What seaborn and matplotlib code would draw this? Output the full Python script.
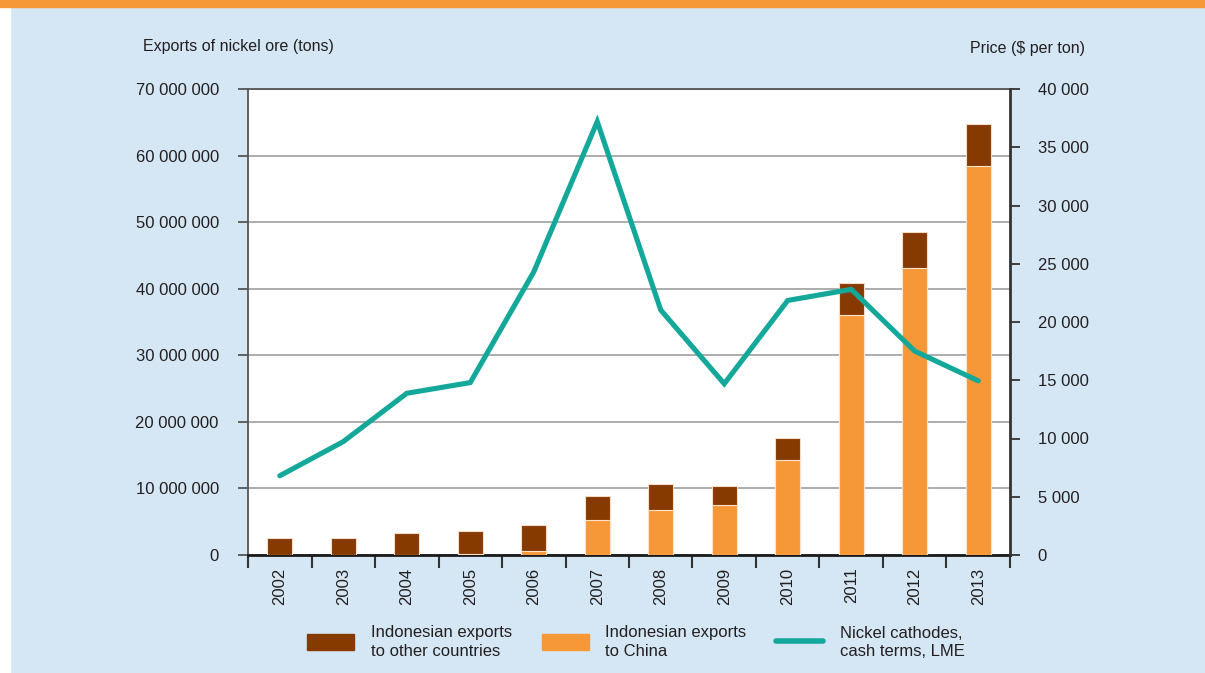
import numpy as np
import pandas as pd
import matplotlib
matplotlib.use("Agg")
import matplotlib.pyplot as plt
import seaborn as sns
from matplotlib.patches import Rectangle
from matplotlib.lines import Line2D
from matplotlib.ticker import FuncFormatter

years = ["2002", "2003", "2004", "2005", "2006", "2007", "2008", "2009", "2010", "2011", "2012", "2013"]
exports_total = [2.55e6, 2.5e6, 3.3e6, 3.6e6, 4.45e6, 8.9e6, 10.6e6, 10.3e6, 17.6e6, 40.8e6, 48.5e6, 64.7e6]
exports_china = [0.0, 0.0, 0.0, 0.1e6, 0.6e6, 5.3e6, 6.7e6, 7.5e6, 14.3e6, 36.1e6, 43.1e6, 58.5e6]
nickel_price = [6800, 9730, 13880, 14800, 24300, 37200, 21030, 14700, 21850, 22800, 17500, 14950]

legend_labels = ["Indonesian exports\nto other countries", "Indonesian exports\nto China", "Nickel cathodes,\ncash terms, LME"]

BROWN = "#873A00"
ORANGE = "#F79838"
TEAL = "#14A89A"
BLUE_BG = "#D5E7F5"

sns.set_theme(style="white")
plt.rcParams["font.family"] = ["Liberation Sans Narrow", "Liberation Sans", "DejaVu Sans"]

df = pd.DataFrame({"year": years, "total": exports_total, "china": exports_china, "price": nickel_price})

fig = plt.figure(figsize=(12.05, 6.73), dpi=100, facecolor=BLUE_BG)
# white left margin strip and orange top strip
fig.patches.append(Rectangle((0, 0), 10 / 1205, 1, transform=fig.transFigure, color="white", zorder=-5))
fig.patches.append(Rectangle((0, 1 - 7 / 673), 1, 7 / 673, transform=fig.transFigure, color=ORANGE, zorder=-4))

ax = fig.add_axes([248 / 1205, 1 - 555 / 673, (1010 - 248) / 1205, (555 - 89) / 673])
ax.set_facecolor("white")

sns.barplot(data=df, x="year", y="total", color=BROWN, width=0.39, ax=ax,
            edgecolor="#F3DCC8", linewidth=0.8, saturation=1, zorder=3)
sns.barplot(data=df, x="year", y="china", color=ORANGE, width=0.39, ax=ax,
            edgecolor="#FBE3CC", linewidth=0.8, saturation=1, zorder=3)

ax.set_ylim(0, 70e6)
ax.set_xlim(-0.5, len(years) - 0.5)
ax.set_yticks(np.arange(0, 70e6 + 1, 10e6))
ax.yaxis.set_major_formatter(FuncFormatter(lambda v, p: f"{int(v):,}".replace(",", " ")))
ax.grid(axis="y", color="#A6A6A6", linewidth=1.3, zorder=0)
ax.set_axisbelow(True)
ax.set_xlabel("")
ax.set_ylabel("")

# x ticks: marks at category boundaries, labels at centres
ax.set_xticks(np.arange(-0.5, len(years), 1.0))
ax.set_xticklabels([""] * (len(years) + 1))
ax.set_xticks(np.arange(len(years)), minor=True)
ax.set_xticklabels(years, minor=True, rotation=90, fontsize=12, color="#231F20")
ax.tick_params(axis="x", which="major", direction="out", length=9, width=1.5, color="#333333", bottom=True)
ax.tick_params(axis="x", which="minor", length=0, pad=9)
ax.tick_params(axis="y", direction="out", length=7, width=1.3, color="#555555", labelsize=12,
               labelcolor="#231F20", pad=14, left=True)

for s in ["left", "top"]:
    ax.spines[s].set_color("#555555")
    ax.spines[s].set_linewidth(1.3)
ax.spines["bottom"].set_color("#1A1A1A")
ax.spines["bottom"].set_linewidth(2.0)
ax.spines["right"].set_visible(False)

ax2 = ax.twinx()
sns.lineplot(x=np.arange(len(years)), y=df["price"], ax=ax2, color=TEAL, linewidth=3.7,
             solid_capstyle="round", solid_joinstyle="miter", zorder=5)
ax2.set_ylim(0, 40000)
ax2.set_yticks(np.arange(0, 40001, 5000))
ax2.yaxis.set_major_formatter(FuncFormatter(lambda v, p: f"{int(v):,}".replace(",", " ")))
ax2.tick_params(axis="y", direction="out", length=7, width=1.3, color="#333333", labelsize=12,
                labelcolor="#231F20", pad=13, right=True)
ax2.set_ylabel("")
for s in ["left", "top", "bottom"]:
    ax2.spines[s].set_visible(False)
ax2.spines["right"].set_color("#333333")
ax2.spines["right"].set_linewidth(2.0)
ax2.grid(False)

fig.text(143 / 1205, 1 - 47 / 673, "Exports of nickel ore (tons)", fontsize=11.5, color="#231F20",
         ha="left", va="center")
fig.text(1085 / 1205, 1 - 48 / 673, "Price ($ per ton)", fontsize=11.5, color="#231F20",
         ha="right", va="center")

handles = [Rectangle((0, 0), 1, 1, color=BROWN), Rectangle((0, 0), 1, 1, color=ORANGE),
           Line2D([0], [0], color=TEAL, linewidth=4, solid_capstyle="round")]
leg = fig.legend(handles, legend_labels, loc="center", bbox_to_anchor=(636 / 1205, 1 - 642 / 673), ncol=3,
                 frameon=False, fontsize=12, handlelength=2.8, handleheight=1.1, handletextpad=1.0,
                 columnspacing=1.8, labelcolor="#231F20")
for t in leg.get_texts():
    t.set_linespacing(1.25)

fig.savefig("out.png", dpi=100, facecolor=BLUE_BG)
